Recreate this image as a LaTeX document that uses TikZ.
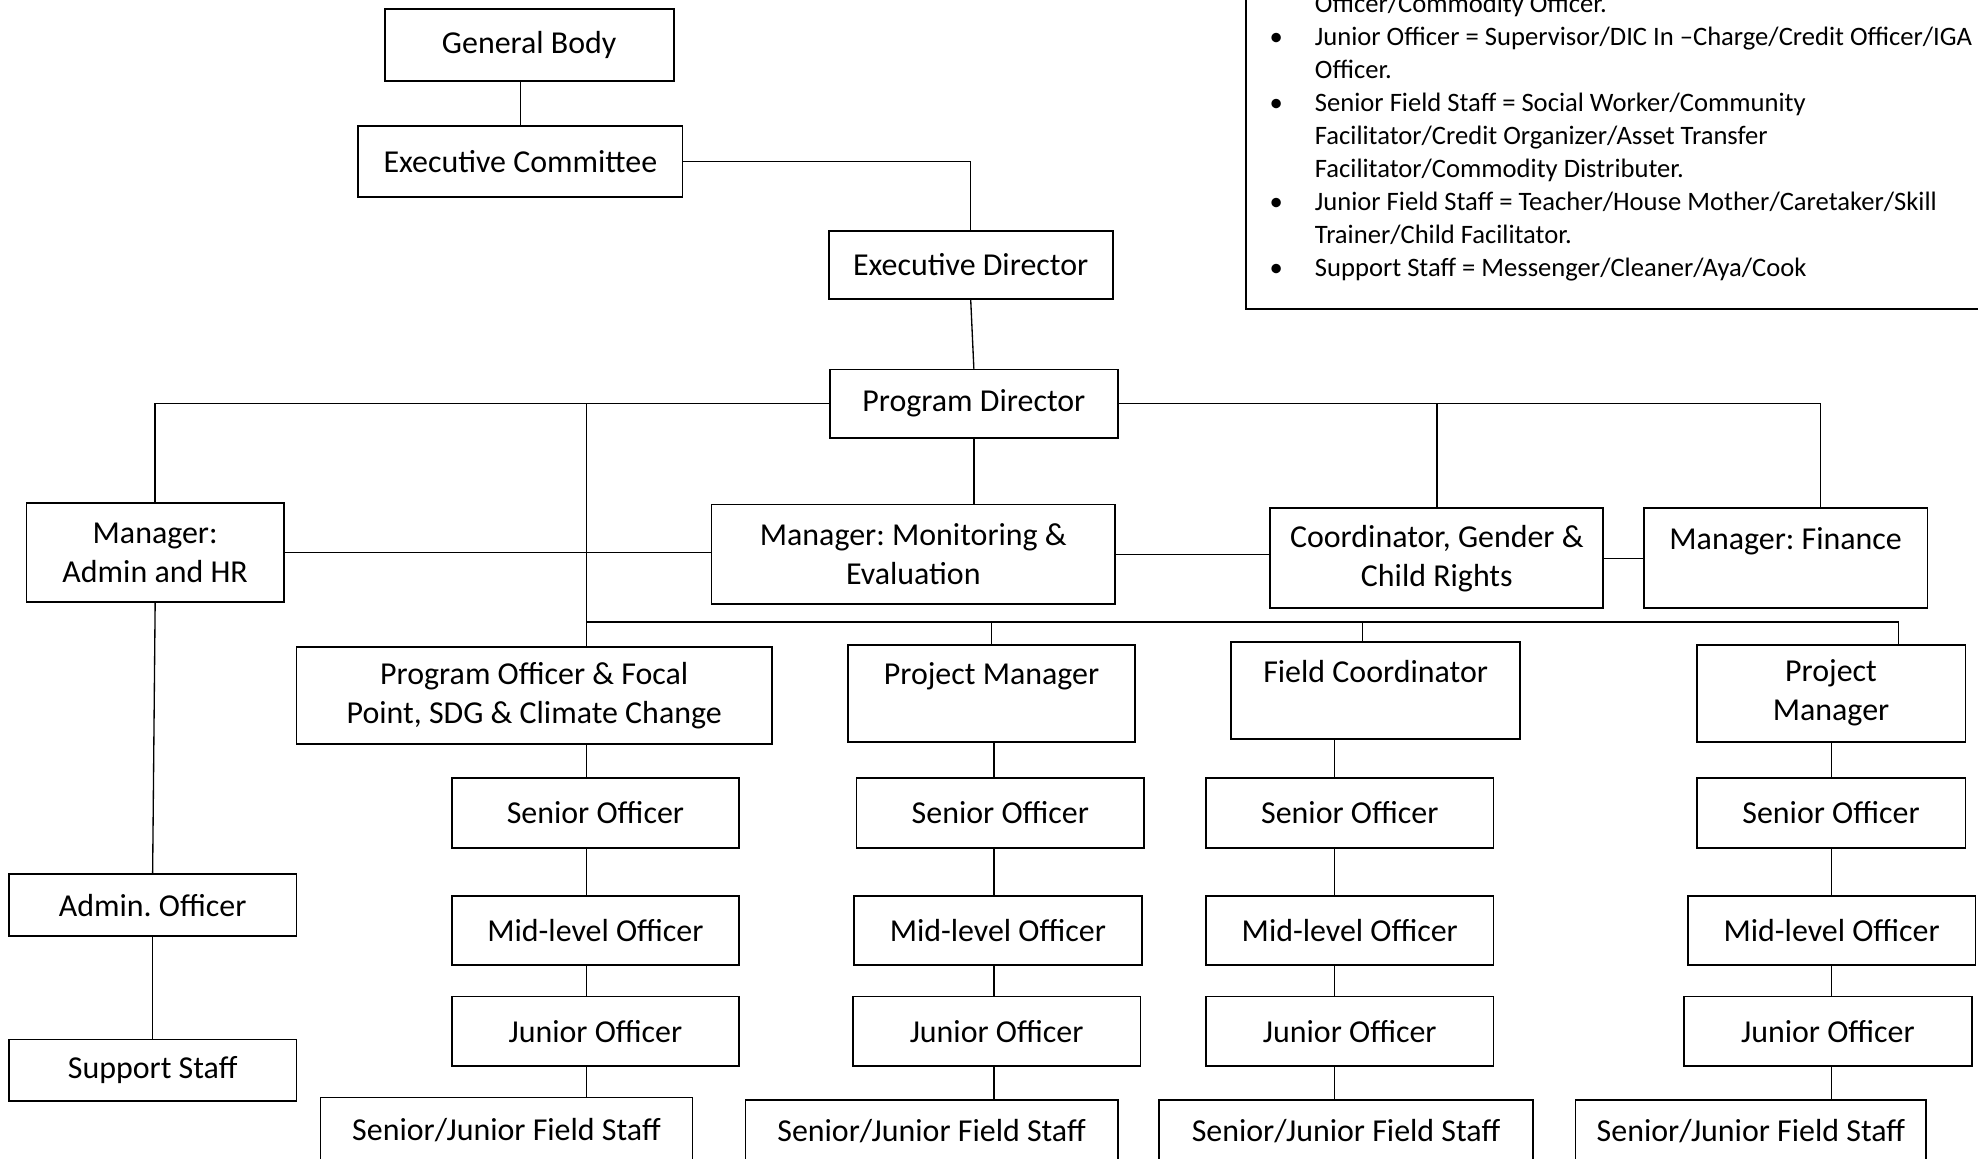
\documentclass[tikz,border=0pt]{standalone}
\usepackage{fontspec}
\setmainfont{Carlito}
\frenchspacing
\newcommand{\orgfont}{\fontsize{14.4}{17.6}\selectfont}
\newcommand{\notefont}{\fontsize{12}{14.9}\selectfont}

\begin{document}
\begin{tikzpicture}[x=0.2mm, y=-0.2mm,
  box/.style={draw, line width=0.8pt, inner sep=0pt, align=center, font=\orgfont},
  dims/.style 2 args={minimum width=#1*0.2mm, minimum height=#2*0.2mm},
  link/.style={line width=0.6pt}]
  \path[use as bounding box, clip] (0,0) rectangle (1568,918);

  \node[box, dims={612}{285}](notes) at (1294,102.5){};
  \node[anchor=base west, inner sep=0pt, font=\notefont](legend) at (1006,10){%
    \begin{tabular}[t]{@{}p{7.2mm}@{}l@{}}
      & Officer/Commodity Officer.\\
      \textbullet & Junior Officer = Supervisor/DIC In –Charge/Credit Officer/IGA\\
      & Officer.\\
      \textbullet & Senior Field Staff = Social Worker/Community\\
      & Facilitator/Credit Organizer/Asset Transfer\\
      & Facilitator/Commodity Distributer.\\
      \textbullet & Junior Field Staff = Teacher/House Mother/Caretaker/Skill\\
      & Trainer/Child Facilitator.\\
      \textbullet & Support Staff = Messenger/Cleaner/Aya/Cook
    \end{tabular}};

  \node[box, dims={229}{57}](gb) at (419.5,35.5){General Body};
  \node[box, dims={257}{56}](ec) at (412.5,128){Executive Committee};
  \node[box, dims={225}{54}](ed) at (769.5,210){Executive Director};
  \node[box, dims={228}{54}](pd) at (772,320){Program Director};
  \node[box, dims={204}{78}](adm) at (123,438){Manager:\\Admin and HR};
  \node[box, dims={320}{79}](me) at (724,439.5){Manager: Monitoring \&\\Evaluation};
  \node[box, dims={264}{79}](cgr) at (1139,442.5){Coordinator, Gender \&\\Child Rights};
  \node[box, dims={225}{79}](fin) at (1415.5,442.5){Manager: Finance\\\mbox{}};
  \node[box, dims={228}{49}](ao) at (121,717.5){Admin. Officer};
  \node[box, dims={228}{49}](ss) at (121,848.5){Support Staff};

  \node[box, dims={377}{77}](po) at (423.5,551.5){Program Officer \& Focal\\Point, SDG \& Climate Change};
  \node[box, dims={228}{55}](so1) at (472,644.5){Senior Officer};
  \node[box, dims={228}{55}](mo1) at (472,737.5){Mid-level Officer};
  \node[box, dims={228}{55}](jo1) at (472,817.5){Junior Officer};
  \node[box, dims={295}{51}](fs1) at (401.5,895.5){Senior/Junior Field Staff};

  \node[box, dims={228}{77}](pm1) at (786,549.5){Project Manager\\\mbox{}};
  \node[box, dims={228}{55}](so2) at (793,644.5){Senior Officer};
  \node[box, dims={228}{55}](mo2) at (791,737.5){Mid-level Officer};
  \node[box, dims={228}{55}](jo2) at (790,817.5){Junior Officer};
  \node[box, dims={295}{49}](fs2) at (738.5,896.5){Senior/Junior Field Staff};

  \node[box, dims={229}{77}](fc) at (1090.5,547.5){Field Coordinator\\\mbox{}};
  \node[box, dims={228}{55}](so3) at (1070,644.5){Senior Officer};
  \node[box, dims={228}{55}](mo3) at (1070,737.5){Mid-level Officer};
  \node[box, dims={228}{55}](jo3) at (1070,817.5){Junior Officer};
  \node[box, dims={296}{49}](fs3) at (1067,896.5){Senior/Junior Field Staff};

  \node[box, dims={213}{77}](pm2) at (1451.5,549.5){Project\\Manager};
  \node[box, dims={213}{55}](so4) at (1451.5,644.5){Senior Officer};
  \node[box, dims={228}{55}](mo4) at (1452,737.5){Mid-level Officer};
  \node[box, dims={228}{55}](jo4) at (1449,817.5){Junior Officer};
  \node[box, dims={278}{49}](fs4) at (1388,896.5){Senior/Junior Field Staff};

  \coordinate (bus) at (465,493);
  \coordinate (drop3) at (1080,493);
  \coordinate (drop4) at (1505,493);
  \coordinate (rdrop) at (1443,0);
  \coordinate (col2) at (788,0);
  \coordinate (col3) at (1058,0);
  \coordinate (col4) at (1452,0);

  \draw[link] (gb.south -| ec.north) -- (ec.north);
  \draw[link] (ec.east) -| (ed.north);
  \draw[link] (ed.south) -- (pd.north);
  \draw[link] (pd.west) -| (adm.north);
  \draw[link] (pd.south) -- (pd.south |- me.north);
  \draw[link] (pd.east) -| (rdrop |- fin.north);
  \draw[link] (cgr.north) -- (cgr.north |- pd.east);
  \draw[link] (adm.east) -- (adm.east -| me.west);
  \draw[link] (me.east) -- (me.east -| cgr.west);
  \draw[link] (cgr.east) -- (fin.west);
  \draw[link] (adm.south) -- (ao.north);
  \draw[link] (ao.south) -- (ss.north);

  \draw[link] (bus |- pd.west) -- (bus |- po.north);
  \draw[link] (bus) -- (drop4) -- (drop4 |- pm2.north);
  \draw[link] (pm1.north |- bus) -- (pm1.north);
  \draw[link] (drop3) -- (drop3 |- fc.north);

  \draw[link] (bus |- po.south) -- (bus |- so1.north);
  \draw[link] (bus |- so1.south) -- (bus |- mo1.north);
  \draw[link] (bus |- mo1.south) -- (bus |- jo1.north);
  \draw[link] (bus |- jo1.south) -- (bus |- fs1.north);
  \draw[link] (col2 |- pm1.south) -- (col2 |- so2.north);
  \draw[link] (col2 |- so2.south) -- (col2 |- mo2.north);
  \draw[link] (col2 |- mo2.south) -- (col2 |- jo2.north);
  \draw[link] (col2 |- jo2.south) -- (col2 |- fs2.north);
  \draw[link] (col3 |- fc.south) -- (col3 |- so3.north);
  \draw[link] (col3 |- so3.south) -- (col3 |- mo3.north);
  \draw[link] (col3 |- mo3.south) -- (col3 |- jo3.north);
  \draw[link] (col3 |- jo3.south) -- (col3 |- fs3.north);
  \draw[link] (col4 |- pm2.south) -- (col4 |- so4.north);
  \draw[link] (col4 |- so4.south) -- (col4 |- mo4.north);
  \draw[link] (col4 |- mo4.south) -- (col4 |- jo4.north);
  \draw[link] (col4 |- jo4.south) -- (col4 |- fs4.north);
\end{tikzpicture}
\end{document}
